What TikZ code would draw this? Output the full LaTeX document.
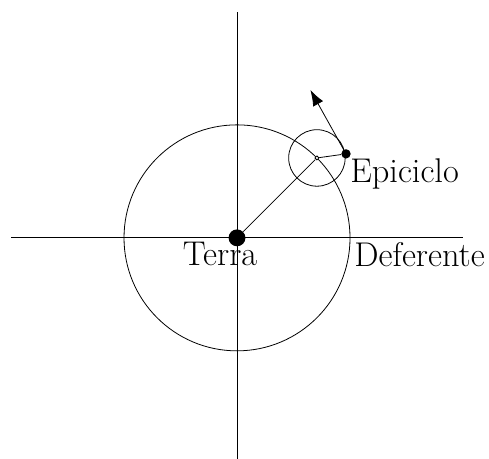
\documentclass[tikz,border=0pt]{standalone}
\usepackage{tikz}
\usetikzlibrary{arrows.meta,positioning,calc}
\tikzset{
  terra/.style={circle, fill=black, inner sep=0pt, minimum size=8.5pt},
  planeta/.style={circle, fill=black, inner sep=0pt, minimum size=4.7pt},
  centro/.style={circle, draw=black, fill=white, inner sep=0pt, minimum size=2pt},
  vel/.style={-{Latex[length=2.8mm, width=2mm]}},
  lbl/.style={font=\LARGE},
}

\begin{document}
\begin{tikzpicture}
    \useasboundingbox (-4.195,-3.91) rectangle (4.46,4.21);
    \coordinate (O) at (0,0);
    \coordinate (xl) at (-4,0); \coordinate (xr) at (4,0);
    \coordinate (yb) at (0,-4); \coordinate (yt) at (0,4);
    \draw (xl) -- (xr);
    \draw (yb) -- (yt);
    \draw (O) circle (2);
    \coordinate (Cc) at (45:2);
    \draw (Cc) circle (0.5);
    \node[terra] (T) at (O) {};
    \node[centro] (C) at (Cc) {};
    \node[planeta] (P) at ($(Cc)+(8:0.52)$) {};
    \draw (T) -- (C);
    \draw (C) -- (P);
    \coordinate (V) at ($(P)+(-0.63,1.13)$);
    \draw[vel] (P.center) -- (V);
    \node[lbl, below, inner sep=2pt] (tl) at (-0.3,0) {Terra};
    \node[lbl, below right, inner sep=2pt] (dl) at (2,0) {Deferente};
    \node[lbl, below right, inner sep=2pt] (el) at (P.center) {Epiciclo};
\end{tikzpicture}
\end{document}
